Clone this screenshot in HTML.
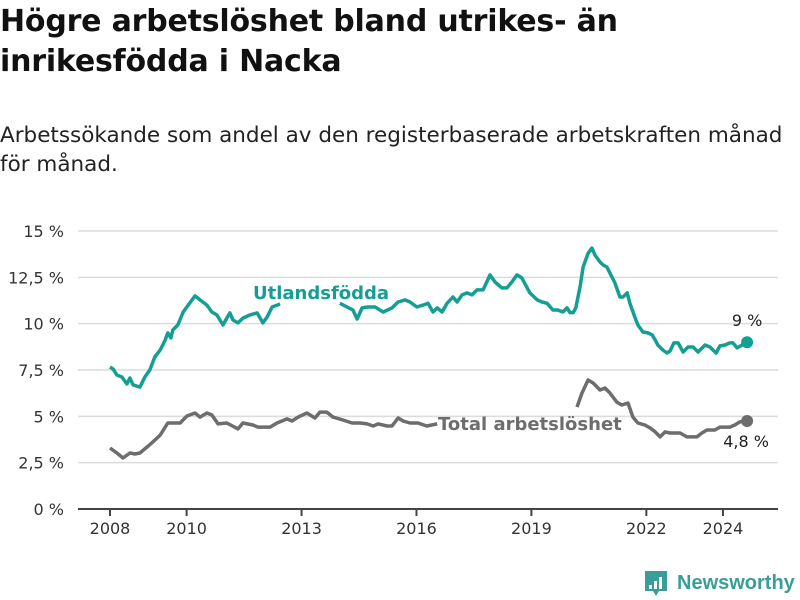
<!DOCTYPE html>
<html><head><meta charset="utf-8"><style>
body{margin:0;background:#fff;font-family:"DejaVu Sans","Liberation Sans",sans-serif;}
#wrap{position:relative;width:800px;height:600px;overflow:hidden;}
h1{position:absolute;left:0;top:2px;margin:0;font-size:30px;line-height:40px;font-weight:bold;color:#111;letter-spacing:-0.2px;}
p.sub{position:absolute;left:0;top:121px;margin:0;font-size:21.5px;line-height:29px;color:#222;width:790px;}
svg{position:absolute;left:0;top:0;}
</style></head><body>
<div id="wrap">
<h1>Högre arbetslöshet bland utrikes- än<br>inrikesfödda i Nacka</h1>
<p class="sub">Arbetssökande som andel av den registerbaserade arbetskraften månad<br>för månad.</p>
<svg id="chart" width="800" height="600"></svg>
</div>
<script>
const yTicks=[0,2.5,5,7.5,10,12.5,15];
const yTickLabels=["0 %","2,5 %","5 %","7,5 %","10 %","12,5 %","15 %"];
const xTicks=[2008,2010,2013,2016,2019,2022,2024];
const xTickLabels=["2008","2010","2013","2016","2019","2022","2024"];
const foreignDates=[2008.00,2008.08,2008.18,2008.31,2008.44,2008.52,2008.60,2008.78,2008.91,2009.04,2009.17,2009.31,2009.44,2009.51,2009.59,2009.64,2009.77,2009.91,2010.04,2010.22,2010.35,2010.53,2010.66,2010.79,2010.95,2011.05,2011.13,2011.21,2011.34,2011.47,2011.65,2011.84,2011.99,2012.10,2012.23,2012.44,2013.2,2014.00,2014.34,2014.45,2014.58,2014.73,2014.92,2015.13,2015.36,2015.52,2015.70,2015.83,2016.01,2016.17,2016.30,2016.43,2016.54,2016.67,2016.80,2016.95,2017.06,2017.19,2017.32,2017.45,2017.58,2017.74,2017.92,2018.05,2018.23,2018.36,2018.49,2018.62,2018.75,2018.96,2019.15,2019.28,2019.41,2019.56,2019.69,2019.82,2019.93,2020.01,2020.09,2020.16,2020.27,2020.35,2020.48,2020.58,2020.66,2020.79,2020.87,2020.97,2021.05,2021.18,2021.31,2021.39,2021.50,2021.57,2021.70,2021.78,2021.91,2022.04,2022.15,2022.23,2022.30,2022.43,2022.54,2022.62,2022.72,2022.83,2022.96,2023.09,2023.22,2023.35,2023.53,2023.66,2023.82,2023.92,2024.05,2024.18,2024.26,2024.37,2024.50,2024.63];
const foreignValues=[7.66,7.55,7.23,7.12,6.75,7.07,6.70,6.58,7.12,7.50,8.20,8.58,9.12,9.50,9.23,9.66,9.93,10.63,11.00,11.50,11.28,11.00,10.63,10.47,9.93,10.30,10.58,10.20,10.04,10.30,10.47,10.58,10.04,10.36,10.90,11.06,null,11.10,10.74,10.25,10.85,10.90,10.90,10.63,10.85,11.17,11.28,11.17,10.90,11.00,11.10,10.63,10.85,10.63,11.10,11.44,11.17,11.55,11.66,11.55,11.82,11.82,12.63,12.25,11.93,11.93,12.25,12.63,12.47,11.66,11.28,11.17,11.10,10.74,10.74,10.63,10.85,10.60,10.60,10.85,12.00,13.06,13.80,14.08,13.70,13.33,13.17,13.06,12.74,12.20,11.44,11.44,11.66,11.10,10.36,9.93,9.55,9.50,9.40,9.12,8.85,8.58,8.42,8.53,8.96,8.96,8.47,8.74,8.74,8.47,8.85,8.74,8.42,8.80,8.85,8.96,8.96,8.69,8.85,9.00];
const totalDates=[2008.00,2008.18,2008.34,2008.52,2008.65,2008.78,2008.97,2009.12,2009.31,2009.51,2009.83,2010.01,2010.22,2010.35,2010.53,2010.66,2010.82,2011.05,2011.34,2011.47,2011.73,2011.86,2011.99,2012.18,2012.36,2012.62,2012.75,2012.91,2013.14,2013.35,2013.48,2013.66,2013.82,2014.08,2014.32,2014.53,2014.71,2014.87,2015.00,2015.23,2015.36,2015.52,2015.65,2015.83,2016.04,2016.27,2016.54,2018.3,2020.19,2020.32,2020.48,2020.61,2020.79,2020.92,2021.05,2021.23,2021.36,2021.52,2021.65,2021.78,2021.96,2022.10,2022.23,2022.36,2022.49,2022.62,2022.88,2023.06,2023.32,2023.45,2023.58,2023.79,2023.92,2024.18,2024.31,2024.44,2024.63];
const totalValues=[3.29,3.02,2.75,3.02,2.97,3.02,3.35,3.62,3.99,4.64,4.64,5.02,5.18,4.96,5.18,5.07,4.59,4.64,4.32,4.64,4.53,4.42,4.42,4.42,4.64,4.86,4.75,4.96,5.18,4.91,5.23,5.23,4.96,4.80,4.64,4.64,4.59,4.48,4.59,4.48,4.48,4.91,4.75,4.64,4.64,4.48,4.59,null,5.50,6.26,6.96,6.80,6.42,6.53,6.26,5.77,5.61,5.72,4.96,4.64,4.53,4.37,4.16,3.89,4.16,4.10,4.10,3.89,3.89,4.10,4.26,4.26,4.42,4.42,4.53,4.70,4.75];
const endLabels=["9 %","4,8 %"];

const svg=document.getElementById('chart');
const NS='http://www.w3.org/2000/svg';
const X0=110,PXY=38.31,Y0=509,PXV=18.533;
const xs=d=>X0+(d-2008)*PXY;
const ys=v=>Y0-v*PXV;
function mk(tag,attrs){const e=document.createElementNS(NS,tag);for(const k in attrs)e.setAttribute(k,attrs[k]);svg.appendChild(e);return e;}

yTicks.forEach((t,i)=>{
  if(t>0){const g=mk('line',{x1:78,x2:778,y1:ys(t),y2:ys(t),stroke:'#dcdcdc','stroke-width':1.5});
  
  }
  const l=mk('text',{x:64,y:ys(t)+6,'text-anchor':'end','font-size':16,fill:'#333','font-family':'DejaVu Sans, Liberation Sans, sans-serif'});
  l.textContent=yTickLabels[i];
  
  
});
const ax=mk('line',{x1:78,x2:778,y1:Y0,y2:Y0,stroke:'#444','stroke-width':2});


xTicks.forEach((t,i)=>{
  const tk=mk('line',{x1:xs(t),x2:xs(t),y1:Y0,y2:Y0+7,stroke:'#444','stroke-width':2});
  
  
  const l=mk('text',{x:xs(t),y:Y0+25,'text-anchor':'middle','font-size':16,fill:'#333','font-family':'DejaVu Sans, Liberation Sans, sans-serif'});
  l.textContent=xTickLabels[i];
  
  
});
function pathFor(dates,vals){let d='',pen=false;dates.forEach((t,i)=>{const v=vals[i];if(v===null){pen=false;return;}d+=(pen?'L':'M')+xs(t).toFixed(1)+','+ys(v).toFixed(1);pen=true;});return d;}
const p1=mk('path',{d:pathFor(foreignDates,foreignValues),fill:'none',stroke:'#159e94','stroke-width':3.5,'stroke-linejoin':'round'});


const p2=mk('path',{d:pathFor(totalDates,totalValues),fill:'none',stroke:'#6d6d6d','stroke-width':3.5,'stroke-linejoin':'round'});


const fl=foreignValues.length-1, tl=totalValues.length-1;
const c1=mk('circle',{cx:xs(foreignDates[fl]),cy:ys(foreignValues[fl]),r:6,fill:'#159e94'});


const c2=mk('circle',{cx:xs(totalDates[tl]),cy:ys(totalValues[tl]),r:6,fill:'#6d6d6d'});


const e1=mk('text',{x:xs(foreignDates[fl]),y:ys(foreignValues[fl])-16,'text-anchor':'middle','font-size':16,fill:'#222','font-family':'DejaVu Sans, Liberation Sans, sans-serif'});
e1.textContent=endLabels[0];


const e2=mk('text',{x:xs(totalDates[tl])-1,y:ys(totalValues[tl])+26,'text-anchor':'middle','font-size':16,fill:'#222','font-family':'DejaVu Sans, Liberation Sans, sans-serif'});
e2.textContent=endLabels[1];


const s1=mk('text',{x:253,y:299,'font-size':18,'font-weight':'bold',fill:'#159e94','font-family':'DejaVu Sans, Liberation Sans, sans-serif'});
s1.textContent='Utlandsfödda';


const s2=mk('text',{x:438,y:430,'font-size':18,'font-weight':'bold',fill:'#6d6d6d','font-family':'DejaVu Sans, Liberation Sans, sans-serif'});
s2.textContent='Total arbetslöshet';


const g=mk('g',{});


const b=mk('path',{d:'M645,571 h22 v20 h-8 l-3,5 l-3,-5 h-8 z',fill:'#3a9e98'});


[[649,585,3,4],[654,581,3,8],[659,577,3,12]].forEach(r=>{const q=mk('rect',{x:r[0],y:r[1],width:r[2],height:r[3],fill:'#fff'});});
const lt=mk('text',{x:677,y:589,'font-size':20,'font-weight':'bold',fill:'#3a9e98','font-family':'Liberation Sans, sans-serif'});
lt.textContent='Newsworthy';


</script>
</body></html>
